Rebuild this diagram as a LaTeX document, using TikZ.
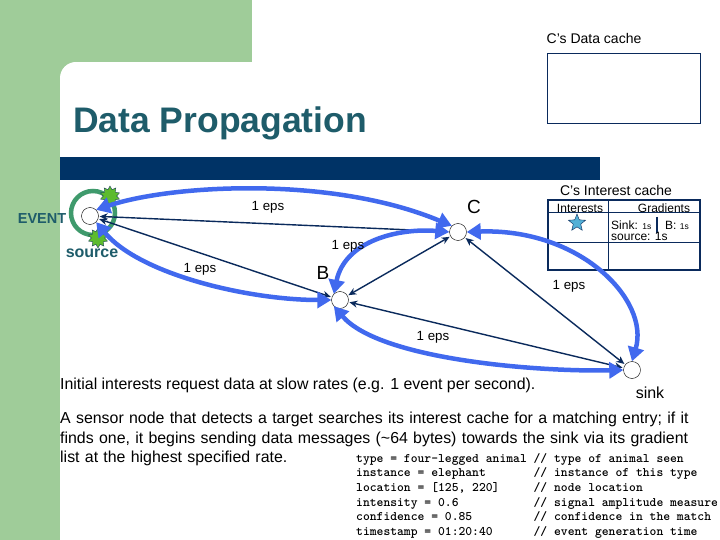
\documentclass[tikz,border=0pt]{standalone}
\usepackage{fontspec}
\setmainfont{Liberation Sans}
\usetikzlibrary{arrows.meta,shapes.geometric}
\definecolor{panel}{HTML}{9FCC99}
\definecolor{navy}{HTML}{0A2A5C}
\definecolor{bar}{HTML}{003366}
\definecolor{teal}{HTML}{1E5C6A}
\definecolor{bblue}{HTML}{4169EE}
\definecolor{gcirc}{HTML}{3F9A6C}
\definecolor{burst}{HTML}{5DBB2E}
\begin{document}
\begin{tikzpicture}[x=1pt,y=-1pt,
  nd/.style={circle,draw=black,fill=white,minimum size=17pt,inner sep=0pt},
  lbl/.style={font=\fontsize{13.3}{13.3}\selectfont,text=black,inner sep=0pt},
  big/.style={font=\fontsize{19}{19}\selectfont,text=black,inner sep=0pt},
  thin/.style={draw=navy,line width=1.4pt,{Stealth[length=8pt,width=7pt]}-{Stealth[length=8pt,width=7pt]},shorten <=1pt,shorten >=1pt},
  fat/.style={draw=bblue,line width=4.5pt,{Triangle[length=14pt,width=16pt]}-{Triangle[length=14pt,width=16pt]}},
  bst/.style={star,star points=10,star point ratio=1.5,fill=burst,draw=navy,line width=0.3pt,minimum size=20pt,inner sep=0pt}]
\useasboundingbox (0,0) rectangle (720,540);
\fill[white] (0,0) rectangle (720,540);
\fill[panel] (0,0) rectangle (252,62);
\fill[panel] (0,0) rectangle (60,540);
\fill[panel] (60,62) rectangle (76,78);
\fill[white] (60,78) arc[start angle=180,end angle=270,radius=16] -- (76,78) -- cycle;
\fill[white] (60,78) rectangle (76,80);
% title and bar
\node[anchor=west,inner sep=0pt,font=\fontsize{35.5}{35.5}\selectfont\bfseries,text=teal] (title) at (73,123) {Data Propagation};
\fill[bar] (60,157) rectangle (600,180);
% data cache
\node[inner sep=0pt,font=\fontsize{14}{14}\selectfont] (dct) at (594,38) {C's Data cache};
\draw[navy,line width=1pt] (547,54) rectangle (700,124);
% interest cache
\node[inner sep=0pt,font=\fontsize{14}{14}\selectfont] (ict) at (616,190) {C's Interest cache};
\draw[navy,line width=1pt] (548,213) -- (700,213);
\draw[navy,line width=1pt] (548,242) -- (700,242);
\draw[navy,line width=1pt] (608,200) -- (608,270);
\draw[navy,line width=2.5pt] (548,200) rectangle (700,270);
\node[inner sep=0pt,font=\fontsize{12}{12}\selectfont] (hi) at (580,208) {Interests};
\node[inner sep=0pt,font=\fontsize{12}{12}\selectfont] (hg) at (664,208) {Gradients};
\node[star,star points=5,star point ratio=2.3,fill=cyan!70!teal!80,draw=navy,line width=0.4pt,minimum size=18pt,inner sep=0pt] (istar) at (577,223) {};
\node[anchor=west,inner sep=0pt,font=\fontsize{12}{12}\selectfont] (g1) at (611,225) {Sink: {\fontsize{8.5}{8.5}\selectfont 1s}};
\draw[navy,line width=1.2pt] (657,217) -- (657,233);
\node[anchor=west,inner sep=0pt,font=\fontsize{12}{12}\selectfont] (g2) at (665,225) {B: {\fontsize{8.5}{8.5}\selectfont 1s}};
\node[anchor=west,inner sep=0pt,font=\fontsize{12}{12}\selectfont] (g3) at (611,236) {source: 1s};
% nodes
\node[nd] (src) at (90,216) {};
\node[nd] (C) at (458,232) {};
\node[nd] (B) at (340,300) {};
\node[nd] (sink) at (632,370) {};
\draw[gcirc,line width=4.5pt] (93,213) circle[radius=22];
\node[bst] (b1) at (110,196) {};
\node[bst] (b2) at (98,238) {};
% thin arrows
\draw[thin] (src) -- (C);
\draw[thin] (src) -- (B);
\draw[thin] (B) -- (C);
\draw[thin] (B) -- (sink);
\draw[thin] (C) -- (sink);
% fat arrows
\draw[fat] (C.north west) .. controls (330,175) and (170,185) .. (src.north east);
\draw[fat] (src.south east) .. controls (140,275) and (250,300) .. (B.west);
\draw[fat] (B.north west) .. controls (345,240) and (400,228) .. (C.west);
\draw[fat] (B.south west) .. controls (380,360) and (540,372) .. (sink.west);
\draw[fat] (C.east) .. controls (580,228) and (650,300) .. (sink.north);
% labels
\node[inner sep=0pt,font=\fontsize{14.5}{14.5}\selectfont\bfseries,text=teal] (ev) at (42,219) {EVENT};
\node[inner sep=0pt,font=\fontsize{16}{16}\selectfont\bfseries,text=teal] (srcl) at (92,253) {source};
\node[big] (Cl) at (474,207) {C};
\node[big] (Bl) at (323,273) {B};
\node[inner sep=0pt,font=\fontsize{16}{16}\selectfont] (sinkl) at (650,393) {sink};
\node[lbl] (e1) at (268,207) {1 eps};
\node[lbl] (e2) at (348,246) {1 eps};
\node[lbl] (e3) at (200,269) {1 eps};
\node[lbl] (e4) at (569,286) {1 eps};
\node[lbl] (e5) at (433,337) {1 eps};
% text
\node[anchor=west,inner sep=0pt,font=\fontsize{15.9}{15.9}\selectfont] (t1) at (60,385) {Initial interests request data at slow rates (e.g. 1 event per second).};
\node[anchor=north west,inner sep=0pt,align=left,text width=640pt,font=\fontsize{15.9}{19.5}\selectfont] (t2) at (60,412) {\hyphenpenalty=10000 A sensor node that detects a target searches its interest cache for a matching entry; if it finds one, it begins sending data messages (\textasciitilde64 bytes) towards the sink via its gradient list at the highest specified rate.};
\node[anchor=north west,inner sep=0pt,align=left,font=\ttfamily\bfseries\fontsize{13}{14.7}\selectfont] (code) at (356,453) {%
type = four-legged animal // type of animal seen\\
instance = elephant~~~~~~~// instance of this type\\
location = [125, 220]~~~~~// node location\\
intensity = 0.6~~~~~~~~~~~// signal amplitude measure\\
confidence = 0.85~~~~~~~~~// confidence in the match\\
timestamp = 01:20:40~~~~~~// event generation time};
\end{tikzpicture}
\end{document}
